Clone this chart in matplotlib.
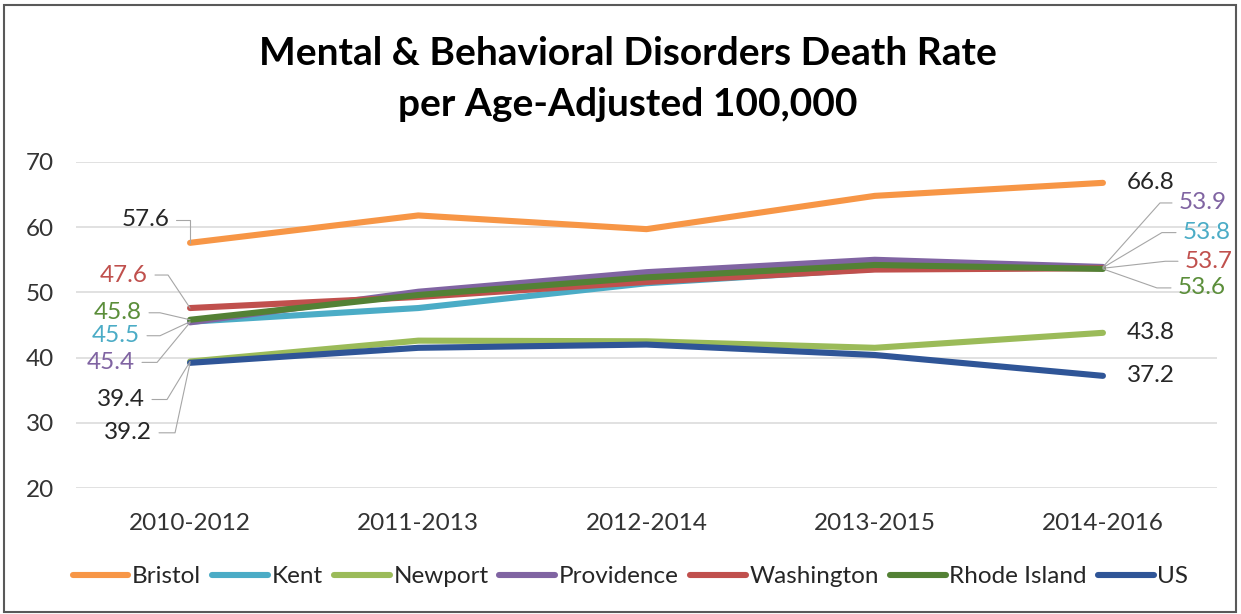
import math
import matplotlib
matplotlib.use('Agg')
import matplotlib.pyplot as plt
from matplotlib.patches import Rectangle

plt.rcParams['font.family'] = ['Lato', 'DejaVu Sans']

# Death rate per age-adjusted 100,000, three-year rolling periods
periods = ['2010-2012', '2011-2013', '2012-2014', '2013-2015', '2014-2016']
bristol = [57.6, 61.8, 59.7, 64.8, 66.8]
kent = [45.5, 47.6, 51.4, 53.6, 53.8]
newport = [39.4, 42.6, 42.5, 41.5, 43.8]
providence = [45.4, 50.1, 53.1, 55.0, 53.9]
washington = [47.6, 49.3, 51.6, 53.5, 53.7]
rhode_island = [45.8, 49.6, 52.3, 54.2, 53.6]
us = [39.2, 41.5, 42.0, 40.4, 37.2]

series = [
    ('Bristol', bristol, '#F79646'),
    ('Kent', kent, '#4BACC6'),
    ('Newport', newport, '#9BBB59'),
    ('Providence', providence, '#8064A2'),
    ('Washington', washington, '#C0504D'),
    ('Rhode Island', rhode_island, '#538135'),
    ('US', us, '#2F5597'),
]
values_by_name = {name: vals for name, vals, _ in series}

# data label placement: series, point index, text offset (px), leader knee x offset (px), colour
label_layout = [
    ('Bristol', 0, -21, 23, 0, '#262626'),
    ('Washington', 0, -42, 33, -22, '#C0504D'),
    ('Rhode Island', 0, -48, 7, -30, '#5B8E3A'),
    ('Kent', 0, -50, -14, -30, '#4BACC6'),
    ('Providence', 0, -55, -40, -33, '#8064A2'),
    ('Newport', 0, -45, -38, -23, '#262626'),
    ('US', 0, -38, -70, -15, '#262626'),
    ('Bristol', 4, 24, 0, None, '#262626'),
    ('Providence', 4, 76, 64, 57, '#8064A2'),
    ('Kent', 4, 80, 35, 59, '#4BACC6'),
    ('Washington', 4, 82, 7, 62, '#C0504D'),
    ('Rhode Island', 4, 75, -19, 54, '#5B8E3A'),
    ('Newport', 4, 24, 0, None, '#262626'),
    ('US', 4, 24, 0, None, '#262626'),
]

FS = 17.5

fig = plt.figure(figsize=(12.41, 6.14), dpi=100)
ax = fig.add_axes([0.0612, 0.2052, 0.9195, 0.531])

x = list(range(len(periods)))
for name, vals, color in series:
    ax.plot(x, vals, color=color, lw=4.4, solid_capstyle='round',
            solid_joinstyle='round', label=name, zorder=3)

ax.set_xlim(-0.5, len(periods) - 0.5)
ax.set_ylim(20, 70)
ax.set_yticks(range(20, 71, 10))
ax.set_xticks(x)
ax.set_xticklabels(periods)
ax.grid(axis='y', color='#D9D9D9', lw=1.1, zorder=0)
ax.tick_params(length=0, labelsize=FS, labelcolor='#333333')
ax.tick_params(axis='x', pad=18)
ax.tick_params(axis='y', pad=16)
for side in ax.spines:
    ax.spines[side].set_visible(False)

for name, idx, dx, dy, knee, color in label_layout:
    val = values_by_name[name][idx]
    left = dx < 0
    kw = dict(xy=(idx, val), xytext=(dx, dy), textcoords='offset pixels',
              ha='right' if left else 'left', va='center',
              fontsize=FS, color=color, zorder=4)
    if knee is not None:
        angle_b = math.degrees(math.atan2(dy, knee)) if (knee or dy) else 90
        kw['arrowprops'] = dict(
            arrowstyle='-', color='#A6A6A6', lw=0.8,
            relpos=(1, 0.5) if left else (0, 0.5),
            shrinkA=3, shrinkB=0,
            connectionstyle=f'angle,angleA=0,angleB={angle_b:.1f},rad=0')
    ax.annotate(f'{val:.1f}', **kw)

fig.text(0.506, 0.913, 'Mental & Behavioral Disorders Death Rate',
         ha='center', va='center', fontsize=28, fontweight='bold', color='#000000')
fig.text(0.506, 0.829, 'per Age-Adjusted 100,000',
         ha='center', va='center', fontsize=28, fontweight='bold', color='#000000')

fig.legend(loc='center', bbox_to_anchor=(0.508, 0.0603), ncol=7, frameon=False,
           fontsize=FS, handlelength=2.3, handletextpad=0.15, columnspacing=0.45,
           labelcolor='#262626')

fig.patches.append(Rectangle((0.003, 0.004), 0.993, 0.988, transform=fig.transFigure,
                             fill=False, ec='#595959', lw=1.5))

fig.savefig('out.png', dpi=100)
